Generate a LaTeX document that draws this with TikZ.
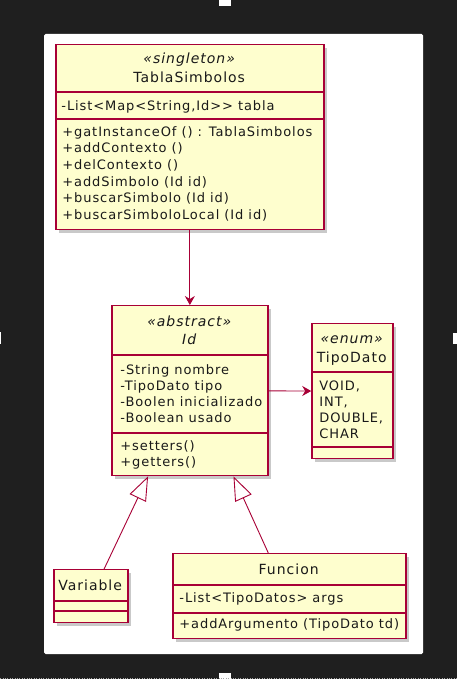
\documentclass[tikz,border=0pt]{standalone}
\usepackage{fontspec}
\setmainfont{DejaVu Sans}[LetterSpace=7]
\usetikzlibrary{arrows.meta,shadows}
\definecolor{fondo}{RGB}{31,31,31}
\definecolor{borde}{HTML}{A80036}
\definecolor{relleno}{HTML}{FEFECE}
\tikzset{
	clase/.style={draw=borde, fill=relleno, line width=1.3pt, inner sep=0pt, anchor=north west,
		drop shadow={shadow xshift=3pt, shadow yshift=-3pt, opacity=.35, fill=black!60}},
	miembro/.style={anchor=base west, inner sep=0pt, text=black!90, font=\fontsize{13}{15}\selectfont},
	titulo/.style={anchor=base, inner sep=0pt, text=black!90, font=\fontsize{14}{16}\selectfont},
	estereotipo/.style={titulo, font=\fontsize{14}{16}\selectfont\itshape},
	linea/.style={draw=borde, line width=1.3pt},
	flecha/.style={draw=borde, line width=0.9pt, -{Stealth[length=9pt,width=10pt,inset=3pt]}},
	hereda/.style={draw=borde, line width=0.9pt, -{Triangle[open,length=24pt,width=18pt]}},
}

\begin{document}
\begin{tikzpicture}[x=1pt,y=-1pt]
	\fill[fondo] (0,0) rectangle (457,679);
	\fill[white, rounded corners=1.5pt] (44,34) rectangle (423,654);
	\fill[white] (219,0) rectangle (231,6);
	\fill[white] (219,673) rectangle (231,679);
	\fill[white] (0,332) rectangle (1,344);
	\fill[white] (453,333) rectangle (457,344);
	\draw[gray!70, dotted] (0,678) -- (457,678);
	
	\node[clase, minimum width=268pt, minimum height=185pt] (tabla) at (55,44) {};
	\draw[linea] (55,92) -- (323,92);
	\draw[linea] (55,119) -- (323,119);
	\node[estereotipo] (tablaEst) at (189,64) {«singleton»};
	\node[titulo] (tablaNom) at (189,83) {TablaSimbolos};
	\node[miembro] (tablaAtr) at (61,111) {-List<Map<String,Id>{}> tabla};
	\foreach \m [count=\i] in {{+gatInstanceOf () : TablaSimbolos},{+addContexto ()},{+delContexto ()},
		{+addSimbolo (Id id)},{+buscarSimbolo (Id id)},{+buscarSimboloLocal (Id id)}}
		\node[miembro] (tablaMet\i) at (62,{136.5+16.5*(\i-1)}) {\m};
	
	\node[clase, minimum width=156pt, minimum height=170pt] (id) at (111,305) {};
	\draw[linea] (111,355) -- (267,355);
	\draw[linea] (111,433) -- (267,433);
	\node[estereotipo] (idEst) at (189,326) {«abstract»};
	\node[estereotipo] (idNom) at (189,344) {Id};
	\foreach \m [count=\i] in {{-String nombre},{-TipoDato tipo},{-Boolen inicializado},{-Boolean usado}}
		\node[miembro] (idAtr\i) at (120,{374+16.2*(\i-1)}) {\m};
	\node[miembro] (idMet1) at (120,450) {+setters()};
	\node[miembro] (idMet2) at (120,466.5) {+getters()};
	
	\node[clase, minimum width=81pt, minimum height=135pt] (tipo) at (311,323) {};
	\draw[linea] (311,372) -- (392,372);
	\draw[linea] (311,447) -- (392,447);
	\node[estereotipo] (tipoEst) at (351.5,343) {«enum»};
	\node[titulo] (tipoNom) at (351.5,362) {TipoDato};
	\foreach \m [count=\i] in {{VOID,},{INT,},{DOUBLE,},{CHAR}}
		\node[miembro] (tipoVal\i) at (319,{390+16*(\i-1)}) {\m};
	
	\node[clase, minimum width=74pt, minimum height=53pt] (variable) at (53,569) {};
	\draw[linea] (53,601) -- (127,601);
	\draw[linea] (53,611) -- (127,611);
	\node[titulo] (variableNom) at (90,590) {Variable};
	
	\node[clase, minimum width=233pt, minimum height=85pt] (funcion) at (172,553) {};
	\draw[linea] (172,585) -- (405,585);
	\draw[linea] (172,613) -- (405,613);
	\node[titulo] (funcionNom) at (288.5,574) {Funcion};
	\node[miembro] (funcionAtr) at (179,602) {-List<TipoDatos> args};
	\node[miembro] (funcionMet) at (179,628) {+addArgumento (TipoDato td)};
	
	\draw[flecha] (tabla) -- (id);
	\draw[flecha] (id) -- (tipo);
	\draw[hereda] (variable.64) -- (id.244);
	\draw[hereda] (funcion.116) -- (id.297);
\end{tikzpicture}
\end{document}
